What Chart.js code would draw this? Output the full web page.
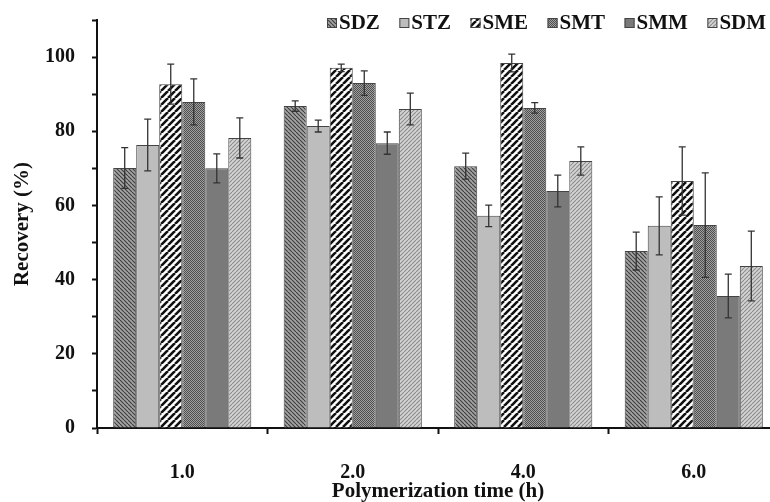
<!DOCTYPE html>
<html>
<head>
<meta charset="utf-8">
<script src="https://cdn.jsdelivr.net/npm/chart.js@4.4.1/dist/chart.umd.min.js"></script>
<style>
html,body{margin:0;padding:0;overflow:hidden;background:#fff;}
#wrap{width:782px;height:502px;}
</style>
</head>
<body>
<div id="wrap"><canvas id="c" width="782" height="502"></canvas></div>
<script>
// ---- data ----
const categories = ['1.0', '2.0', '4.0', '6.0'];
const seriesNames = ['SDZ', 'STZ', 'SME', 'SMT', 'SMM', 'SDM'];
const SDZ = [70.1, 86.8, 70.6, 47.7];
const STZ = [76.3, 81.4, 57.2, 54.5];
const SME = [92.7, 97.1, 98.4, 66.6];
const SMT = [87.9, 93.0, 86.3, 54.7];
const SMM = [70.0, 76.8, 63.9, 35.6];
const SDM = [78.2, 86.0, 72.0, 43.7];
const SDZ_err = [5.5, 1.4, 3.5, 5.1];
const STZ_err = [7.0, 1.6, 2.9, 7.8];
const SME_err = [5.4, 1.0, 2.4, 9.2];
const SMT_err = [6.2, 3.3, 1.4, 14.1];
const SMM_err = [3.9, 3.0, 4.3, 5.9];
const SDM_err = [5.4, 4.3, 3.8, 9.4];
const yTicksMajor = [0, 20, 40, 60, 80, 100];

const values = [SDZ, STZ, SME, SMT, SMM, SDM];
const errors = [SDZ_err, STZ_err, SME_err, SMT_err, SMM_err, SDM_err];

// ---- patterns ----
function makePattern(size, draw) {
  const c = document.createElement('canvas');
  c.width = size; c.height = size;
  const g = c.getContext('2d');
  draw(g, size);
  return document.getElementById('c').getContext('2d').createPattern(c, 'repeat');
}
function diag(g, s, dir, color, w) {
  g.strokeStyle = color; g.lineWidth = w; g.beginPath();
  for (let k = -1; k <= 1; k++) {
    if (dir === 'back') { g.moveTo(k * s, 0); g.lineTo(k * s + s, s); }
    else { g.moveTo(k * s, s); g.lineTo(k * s + s, 0); }
  }
  g.stroke();
}
const pSDZ = makePattern(4, (g, s) => { g.fillStyle = '#a4a4a4'; g.fillRect(0, 0, s, s); diag(g, s, 'back', '#3c3c3c', 1.1); });
const pSTZ = '#bdbdbd';
const pSME = makePattern(7, (g, s) => { g.fillStyle = '#ffffff'; g.fillRect(0, 0, s, s); diag(g, s, 'fwd', '#111111', 2.6); });
const pSMT = makePattern(2, (g, s) => { g.fillStyle = '#a0a0a0'; g.fillRect(0, 0, s, s); g.fillStyle = '#4e4e4e'; g.fillRect(0, 0, 1, 1); g.fillRect(1, 1, 1, 1); });
const pSMM = '#7a7a7a';
const pSDM = makePattern(4, (g, s) => { g.fillStyle = '#d4d4d4'; g.fillRect(0, 0, s, s); diag(g, s, 'fwd', '#8c8c8c', 1.1); });
const fills = [pSDZ, pSTZ, pSME, pSMT, pSMM, pSDM];

const FONT = 'Liberation Serif, Times New Roman, serif';

const datasets = seriesNames.map((n, i) => ({
  label: n,
  data: values[i],
  backgroundColor: fills[i],
  borderColor: '#444',
  borderWidth: 1,
  categoryPercentage: 0.81,
  barPercentage: 1.0
}));

// error bar plugin
const errorBars = {
  id: 'errorBars',
  afterDatasetsDraw(chart) {
    const ctx = chart.ctx; const y = chart.scales.y;
    ctx.save();
    ctx.strokeStyle = '#333'; ctx.lineWidth = 1.3;
    chart.data.datasets.forEach((ds, i) => {
      const meta = chart.getDatasetMeta(i);
      meta.data.forEach((bar, j) => {
        const v = values[i][j], e = errors[i][j];
        const yt = y.getPixelForValue(v + e), yb = y.getPixelForValue(v - e);
        const x = bar.x;
        ctx.beginPath();
        ctx.moveTo(x, yt); ctx.lineTo(x, yb);
        ctx.moveTo(x - 3.5, yt); ctx.lineTo(x + 3.5, yt);
        ctx.moveTo(x - 3.5, yb); ctx.lineTo(x + 3.5, yb);
        ctx.stroke();
      });
    });
    ctx.restore();
  }
};

// legend plugin
const customLegend = {
  id: 'customLegend',
  afterDraw(chart) {
    const ctx = chart.ctx;
    ctx.save();
    ctx.font = 'bold 21px ' + FONT;
    ctx.textBaseline = 'alphabetic';
    let x = 327;
    const boxY = 18, box = 10, baseY = 29;
    chart.data.datasets.forEach((ds) => {
      ctx.fillStyle = ds.backgroundColor;
      ctx.fillRect(x, boxY, box, box);
      ctx.strokeStyle = '#444'; ctx.lineWidth = 1;
      ctx.strokeRect(x + 0.5, boxY + 0.5, box - 1, box - 1);
      ctx.fillStyle = '#111';
      ctx.fillText(ds.label, x + box + 2, baseY);
      x += box + 2 + ctx.measureText(ds.label).width + 19.5;
    });
    ctx.restore();
  }
};

new Chart(document.getElementById('c'), {
  type: 'bar',
  data: { labels: categories, datasets },
  plugins: [errorBars, customLegend],
  options: {
    responsive: false,
    animation: false,
    devicePixelRatio: 1,
    layout: { padding: { top: 20, right: 3, left: 0, bottom: 0 } },
    plugins: { legend: { display: false }, tooltip: { enabled: false } },
    scales: {
      x: {
        grid: { display: true, drawOnChartArea: false, drawTicks: true, tickLength: 6, tickWidth: 2, color: '#111', offset: true },
        border: { display: true, color: '#111', width: 2 },
        ticks: { color: '#111', font: { family: FONT, size: 20, weight: 'bold', lineHeight: 1.0 }, padding: 29, maxRotation: 0 },
        title: { display: true, text: 'Polymerization time (h)', color: '#111', font: { family: FONT, size: 21, weight: 'bold', lineHeight: 1.0 }, padding: { top: 2, bottom: 0 } },
        afterFit(s) { s.height = 74; s.paddingLeft = 0; s.paddingRight = 0; }
      },
      y: {
        min: 0, max: 110,
        grid: { display: true, drawOnChartArea: false, drawTicks: true, tickLength: 5, tickWidth: 2, color: '#111' },
        border: { display: true, color: '#111', width: 2 },
        ticks: {
          stepSize: 10, color: '#111', padding: 17,
          font: { family: FONT, size: 20, weight: 'bold' },
          callback: (v) => yTicksMajor.includes(v) ? String(v) : ''
        },
        title: { display: true, text: 'Recovery (%)', color: '#111', font: { family: FONT, size: 21, weight: 'bold', lineHeight: 1.2 }, padding: { top: 10, bottom: 0 } },
        afterFit(s) { s.width = 97; s.paddingTop = 0; s.paddingBottom = 0; }
      }
    }
  }
});
</script>
</body>
</html>
